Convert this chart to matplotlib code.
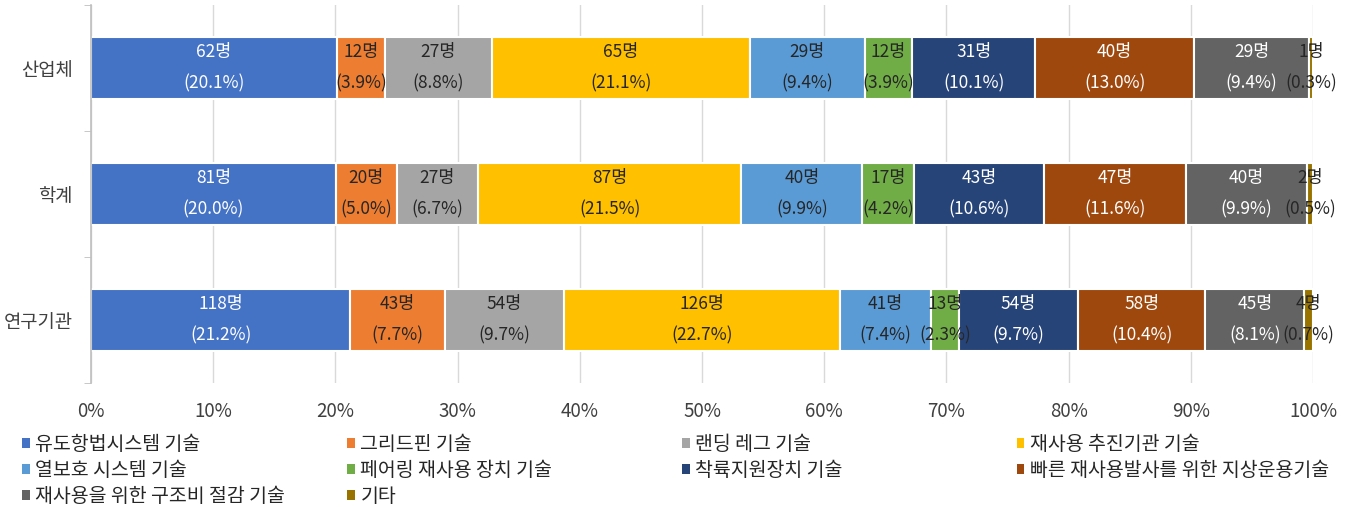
import matplotlib.pyplot as plt
from matplotlib.patches import Patch
from matplotlib.ticker import PercentFormatter

plt.rcParams['font.family'] = ['Noto Sans CJK KR', 'DejaVu Sans']

# ── 데이터 ────────────────────────────────────────────────────────────────
groups = ["산업체", "학계", "연구기관"]
series = ["유도항법시스템 기술", "그리드핀 기술", "랜딩 레그 기술", "재사용 추진기관 기술",
          "열보호 시스템 기술", "페어링 재사용 장치 기술", "착륙지원장치 기술",
          "빠른 재사용발사를 위한 지상운용기술", "재사용을 위한 구조비 절감 기술", "기타"]

counts_industry = [62, 12, 27, 65, 29, 12, 31, 40, 29, 1]
counts_academia = [81, 20, 27, 87, 40, 17, 43, 47, 40, 2]
counts_institute = [118, 43, 54, 126, 41, 13, 54, 58, 45, 4]

pct_industry = [20.1, 3.9, 8.8, 21.1, 9.4, 3.9, 10.1, 13.0, 9.4, 0.3]
pct_academia = [20.0, 5.0, 6.7, 21.5, 9.9, 4.2, 10.6, 11.6, 9.9, 0.5]
pct_institute = [21.2, 7.7, 9.7, 22.7, 7.4, 2.3, 9.7, 10.4, 8.1, 0.7]

counts = [counts_industry, counts_academia, counts_institute]
pcts = [pct_industry, pct_academia, pct_institute]

colors = ["#4472C4", "#ED7D31", "#A5A5A5", "#FFC000", "#5B9BD5",
          "#70AD47", "#264478", "#9E480E", "#636363", "#997300"]
text_colors = ["white", "#262626", "#262626", "#262626", "#262626",
               "#262626", "white", "white", "white", "#262626"]

# ── 그림 ──────────────────────────────────────────────────────────────────
fig = plt.figure(figsize=(13.5, 5.07), dpi=100)
ax = fig.add_axes([91 / 1350, 1 - 383 / 507, (1313 - 91) / 1350, (383 - 5) / 507])

ypos = [2, 1, 0]
for gi, (cnt, pc) in enumerate(zip(counts, pcts)):
    total = sum(cnt)
    left = 0.0
    for si, c in enumerate(cnt):
        w = c / total * 100
        ax.barh(ypos[gi], w, left=left, height=0.49, color=colors[si],
                edgecolor="white", linewidth=1.5, zorder=2)
        xc = left + w / 2
        ax.text(xc, ypos[gi] + 0.125, f"{c}명", ha="center", va="center",
                fontsize=12.5, color=text_colors[si], zorder=3)
        ax.text(xc, ypos[gi] - 0.125, f"({pc[si]:.1f}%)", ha="center", va="center",
                fontsize=12.5, color=text_colors[si], zorder=3)
        left += w

ax.set_xlim(0, 100)
ax.set_ylim(-0.5, 2.5)
ax.xaxis.set_major_locator(plt.MultipleLocator(10))
ax.xaxis.set_major_formatter(PercentFormatter(decimals=0))
ax.grid(axis="x", color="#D9D9D9", linewidth=1, zorder=0)
ax.set_axisbelow(True)

ax.set_yticks(ypos)
ax.set_yticklabels(groups)
ax.set_yticks([-0.5, 0.5, 1.5, 2.5], minor=True)
ax.tick_params(axis="y", which="major", length=0, pad=13, labelsize=13.5, labelcolor="#404040")
ax.tick_params(axis="y", which="minor", length=5, color="#BFBFBF", direction="out")
ax.tick_params(axis="x", length=0, pad=13, labelsize=13.5, labelcolor="#404040")

for s in ["top", "right", "bottom"]:
    ax.spines[s].set_visible(False)
ax.spines["left"].set_color("#BFBFBF")
ax.spines["left"].set_linewidth(1.2)

# ── 범례 (4열, 각 열 고정 위치) ──────────────────────────────────────────
col_x = [12, 337, 672, 1007]
for col in range(4):
    idx = [i for i in range(col, len(series), 4)]
    handles = [Patch(facecolor=colors[i], edgecolor="none") for i in idx]
    labels = [series[i] for i in idx]
    fig.legend(handles, labels, loc="upper left",
               bbox_to_anchor=(col_x[col] / 1350, 1 - 424 / 507),
               frameon=False, fontsize=14, handlelength=0.4, handleheight=0.4,
               handletextpad=0.3, labelspacing=0.26, borderpad=0,
               labelcolor="#262626")

fig.savefig("out.png", dpi=100)
plt.close(fig)
